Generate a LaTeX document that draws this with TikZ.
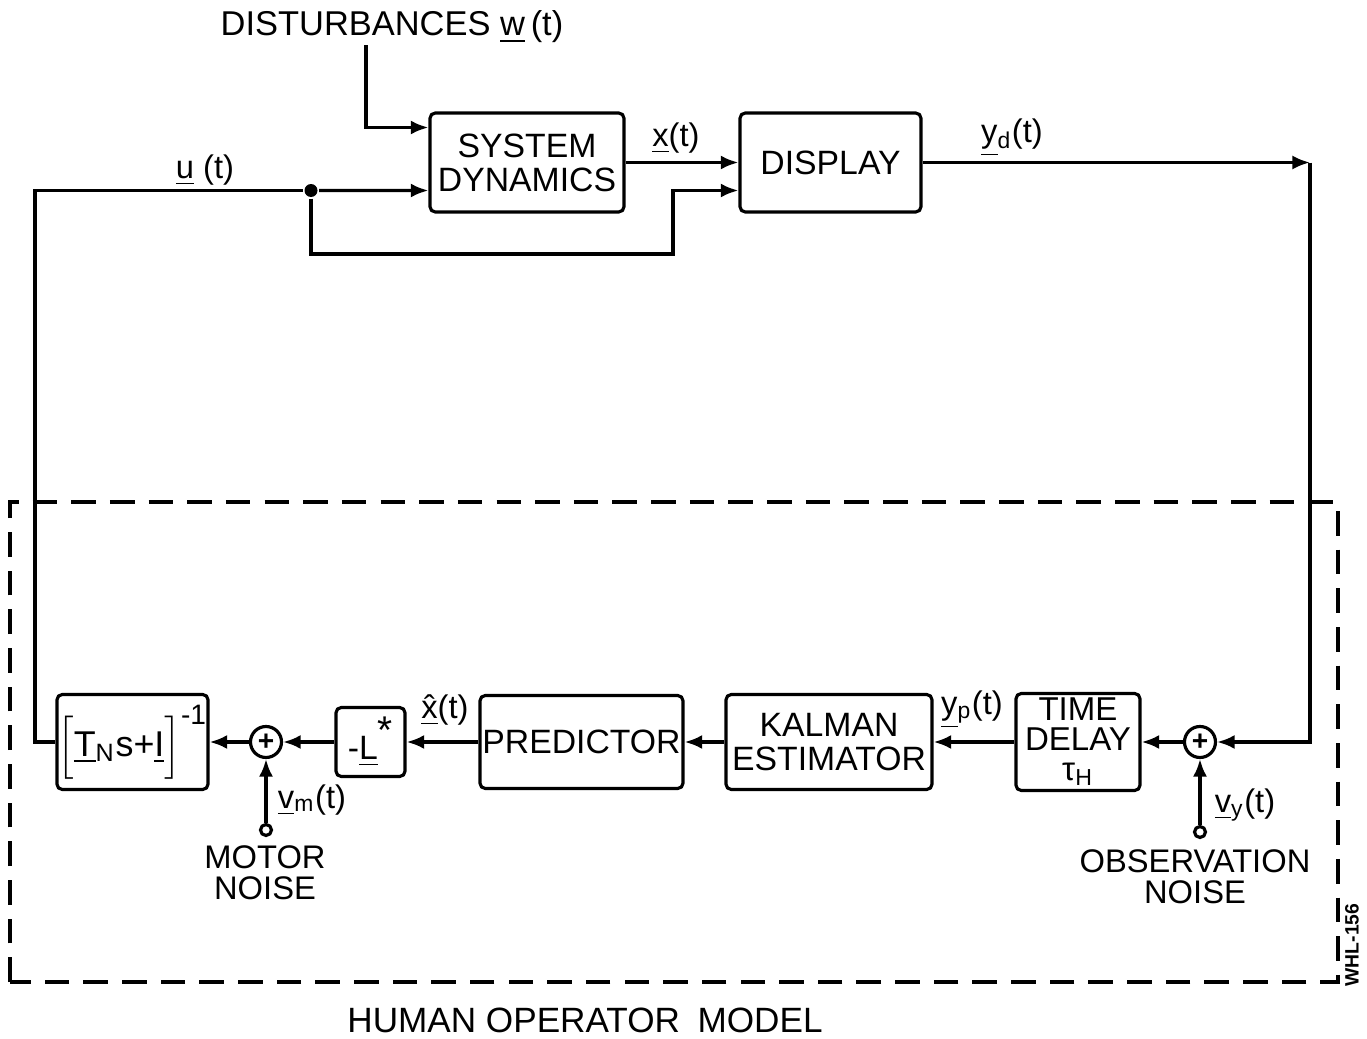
\documentclass[tikz,border=0pt]{standalone}
\usepackage{fontspec}
\setmainfont{Liberation Sans}
\usetikzlibrary{arrows.meta}

\begin{document}
\begin{tikzpicture}[
    line width=0.9pt,
    box/.style={
        draw,
        rectangle,
        rounded corners=1.5pt,
        inner sep=0pt,
        align=center,
        font=\fontsize{9.6}{9.7}\selectfont
    },
    sumpt/.style={draw, circle, minimum size=0.31cm, inner sep=0pt,
        font=\fontsize{8}{8}\selectfont\bfseries},
    noise/.style={draw, circle, fill=white, minimum size=0.11cm, inner sep=0pt},
    sig/.style={inner sep=1pt, align=center, font=\fontsize{9.3}{8.7}\selectfont},
    arrow/.style={-{Latex[length=5pt,width=4pt]}}
]
\useasboundingbox (0,0) rectangle (13.67,10.38);

% plant
\node[sig, font=\fontsize{9.8}{9.8}\selectfont] (dist) at (3.92,10.11) {DISTURBANCES \underline{w}\,(t)};
\node[box, minimum width=1.94cm, minimum height=0.99cm] (sysdyn) at (5.27,8.755) {SYSTEM\\DYNAMICS};
\node[box, minimum width=1.81cm, minimum height=0.99cm] (display) at (8.305,8.755) {DISPLAY};
\node[circle, fill, minimum size=0.13cm, inner sep=0pt] (junc) at (3.11,8.475) {};

\coordinate (wtop) at (3.66,9.93);
\coordinate (uleft) at (0.35,8.475);
\coordinate (bend) at (6.73,7.84);
\coordinate (ycorner) at (13.10,8.755);

% human operator
\node[box, minimum width=1.51cm, minimum height=0.95cm, font=\fontsize{10.2}{10.2}\selectfont] (gain) at (1.325,2.96)
    {$\Big[\mbox{\underline{T}\textsubscript{N}s+\underline{I}}\Big]^{\mbox{\fontsize{8}{8}\selectfont -1}}$};
\node[sumpt] (summ) at (2.66,2.96) {+};
\node[box, minimum width=0.69cm, minimum height=0.69cm] (lstar) at (3.705,2.96) {-\underline{L}\raisebox{0.9ex}{\fontsize{11}{11}\selectfont *}};
\node[box, minimum width=2.03cm, minimum height=0.93cm] (pred) at (5.815,2.96) {PREDICTOR};
\node[box, minimum width=2.06cm, minimum height=0.95cm] (kalman) at (8.29,2.96) {KALMAN\\ESTIMATOR};
\node[box, minimum width=1.24cm, minimum height=0.97cm, font=\fontsize{9.4}{8.5}\selectfont] (delay) at (10.78,2.96) {TIME\\DELAY\\τ\textsubscript{H}};
\node[sumpt] (sumy) at (12.00,2.96) {+};
\node[noise] (vm) at (2.66,2.08) {};
\node[noise] (vy) at (12.00,2.06) {};

% signal labels
\node[sig] (ulab) at (2.05,8.68) {\underline{u} (t)};
\node[sig] (xlab) at (6.76,9.0) {\underline{x}(t)};
\node[sig] (ydlab) at (10.12,9.0) {\underline{y}\textsubscript{d}(t)};
\node[sig] (xhlab) at (4.45,3.28) {\underline{\^{x}}(t)};
\node[sig] (yplab) at (9.72,3.28) {\underline{y}\textsubscript{p}(t)};
\node[sig] (vmlab) at (3.12,2.38) {\underline{v}\textsubscript{m}(t)};
\node[sig] (vylab) at (12.45,2.33) {\underline{v}\textsubscript{y}(t)};
\node[sig] (mnoise) at (2.65,1.65) {MOTOR\\NOISE};
\node[sig] (onoise) at (11.95,1.61) {OBSERVATION\\NOISE};
\node[sig, font=\fontsize{10}{10}\selectfont] (homlab) at (5.85,0.18) {HUMAN OPERATOR\enspace MODEL};
\node[rotate=90, inner sep=0pt, font=\fontsize{5.5}{5.5}\selectfont\bfseries] (tag) at (13.52,0.93) {WHL-156};

% model frame
\draw[dash pattern=on 7pt off 4pt] (0.10,0.56) rectangle (13.38,5.36);

% connections, top
\draw[arrow] (wtop) |- ([yshift=3.5mm]sysdyn.west);
\draw[arrow] (junc) -- ([yshift=-2.8mm]sysdyn.west);
\draw[arrow] (sysdyn.east) -- (display.west);
\draw[arrow] (junc) |- (bend) |- ([yshift=-2.8mm]display.west);
\draw[arrow] (display.east) -- (ycorner);
\draw[arrow] (ycorner) |- (sumy.east);

% connections, bottom
\draw[arrow] (sumy.west) -- (delay.east);
\draw[arrow] (delay.west) -- (kalman.east);
\draw[arrow] (kalman.west) -- (pred.east);
\draw[arrow] (pred.west) -- (lstar.east);
\draw[arrow] (lstar.west) -- (summ.east);
\draw[arrow] (summ.west) -- (gain.east);
\draw[arrow] (vm) -- (summ);
\draw[arrow] (vy) -- (sumy);
\draw (gain.west) -| (uleft) -- (junc);

\end{tikzpicture}
\end{document}
